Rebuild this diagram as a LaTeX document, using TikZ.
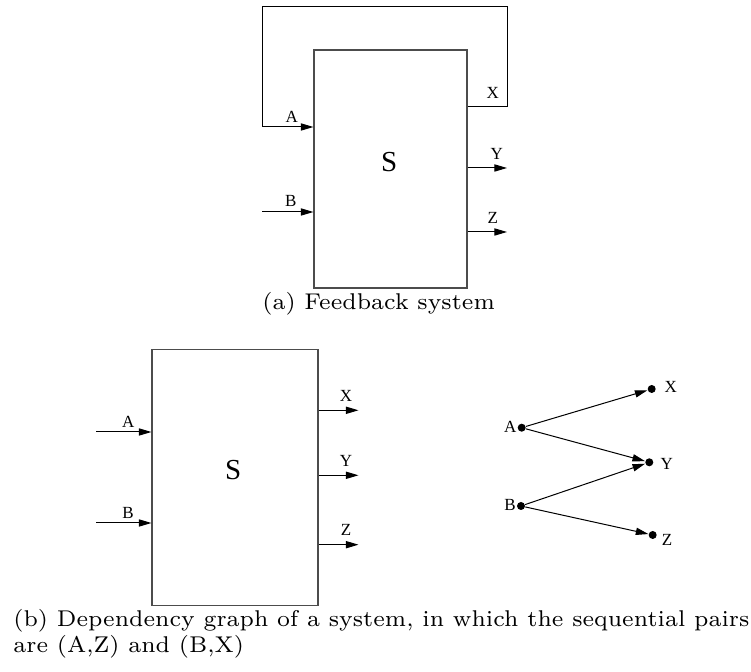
\documentclass[tikz,border=0pt]{standalone}
\usepackage{fontspec}
\usetikzlibrary{arrows.meta,calc}
\newfontfamily\tnr{Liberation Serif}
\newfontfamily\capfont{lmroman7-regular.otf}
\tikzset{
  blk/.style={draw=black!70, line width=0.55pt, rectangle, inner sep=0pt},
  arr/.style={line width=0.5pt, -{Triangle[length=6.3pt,width=3.6pt]}},
  wire/.style={line width=0.5pt},
  lbl/.style={font=\tnr\fontsize{8.5}{9}\selectfont, anchor=base, inner sep=0pt},
  big/.style={font=\tnr\fontsize{14.5}{16}\selectfont, anchor=base, inner sep=0pt},
  dot/.style={circle, fill=black, inner sep=0pt, minimum size=4pt},
  captxt/.style={font=\capfont\fontsize{11.4}{13}\selectfont, anchor=base west, inner sep=0pt, align=left}
}
\begin{document}
\begin{tikzpicture}[x=0.5pt,y=-0.5pt]
\useasboundingbox (0,0) rectangle (751,672);
% ---------- (a) feedback system ----------
\node[blk, minimum width=76.5pt, minimum height=119pt] (S1) at (390.5,169) {};
\node[big] (S1l) at (389.3,171.7) {S};
\coordinate (fbx) at (507,107);
\coordinate (fbtr) at (507,7);
\coordinate (fbtl) at (262,7);
\coordinate (fba) at (262,127);
\coordinate (ib) at (262,212);
\coordinate (oy) at (507,168);
\coordinate (oz) at (507,232);
\draw[wire] (S1.east |- fbx) -- (fbx) -- (fbtr) -- (fbtl) -- (fba);
\draw[arr] (fba) -- (fba -| S1.west);
\draw[arr] (ib) -- (ib -| S1.west);
\draw[arr] (S1.east |- oy) -- (oy);
\draw[arr] (S1.east |- oz) -- (oz);
\node[lbl] (la1) at (291.7,122.7) {A};
\node[lbl] (lb1) at (290.7,206.7) {B};
\node[lbl] (lx1) at (492.7,99) {X};
\node[lbl] (ly1) at (496.7,159.3) {Y};
\node[lbl] (lz1) at (492.7,224) {Z};
\node[captxt] (capa) at (262,310) {(a) Feedback system};
% ---------- (b) system ----------
\node[blk, minimum width=83pt, minimum height=128.2pt] (S2) at (235,477.5) {};
\node[big] (S2l) at (233.3,480) {S};
\coordinate (ia2) at (96,432);
\coordinate (ib2) at (96,523);
\coordinate (ox2) at (358.5,410.3);
\coordinate (oy2) at (358.5,475.3);
\coordinate (oz2) at (358.5,544.7);
\draw[arr] (ia2) -- (ia2 -| S2.west);
\draw[arr] (ib2) -- (ib2 -| S2.west);
\draw[arr] (S2.east |- ox2) -- (ox2);
\draw[arr] (S2.east |- oy2) -- (oy2);
\draw[arr] (S2.east |- oz2) -- (oz2);
\node[lbl] (la2) at (128.3,427.3) {A};
\node[lbl] (lb2) at (128,518.3) {B};
\node[lbl] (lx2) at (346,401.7) {X};
\node[lbl] (ly2) at (346,467) {Y};
\node[lbl] (lz2) at (346,536) {Z};
% ---------- dependency graph ----------
\node[dot] (ga) at (521.7,427.7) {};
\node[dot] (gb) at (521,506) {};
\node[dot] (gx) at (651.7,389) {};
\node[dot] (gy) at (649.3,462.3) {};
\node[dot] (gz) at (652.7,535) {};
\draw[arr] (ga) -- (gx);
\draw[arr] (ga) -- (gy);
\draw[arr] (gb) -- (gy);
\draw[arr] (gb) -- (gz);
\node[lbl] (gla) at (510.3,432.7) {A};
\node[lbl] (glb) at (510,510.7) {B};
\node[lbl] (glx) at (670.7,392.7) {X};
\node[lbl] (gly) at (666.7,470) {Y};
\node[lbl] (glz) at (667,546) {Z};
\node[captxt] (capb1) at (13,627) {(b) Dependency graph of a system, in which the sequential pairs};
\node[captxt] (capb2) at (13,653) {are (A,Z) and (B,X)};
\end{tikzpicture}
\end{document}
